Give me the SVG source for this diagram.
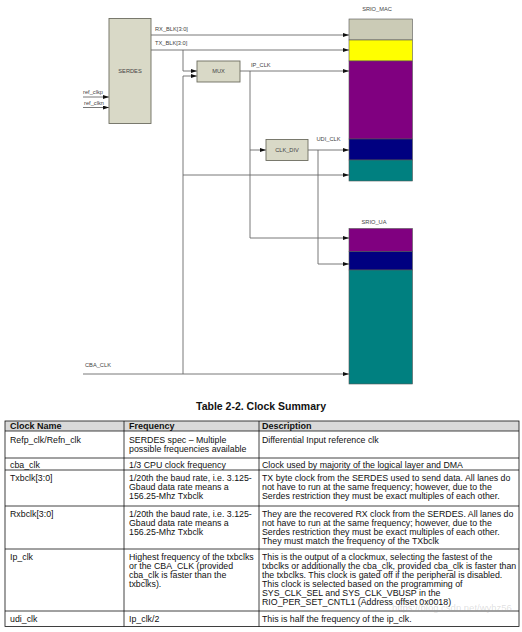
<svg xmlns="http://www.w3.org/2000/svg" width="522" height="632" viewBox="0 0 522 632">
<defs>
<marker id="ah" viewBox="0 0 6 4" refX="6" refY="2" markerWidth="6" markerHeight="4" markerUnits="userSpaceOnUse" orient="auto">
<path d="M0,0 L6,2 L0,4 Z" fill="#111"/>
</marker>
<style>
.w{fill:none;stroke:#6a6a6a;stroke-width:0.9}
.a{marker-end:url(#ah)}
.blk{fill:#d9d9c7;stroke:#6d6d60;stroke-width:0.9}
.lbl{font-family:"Liberation Sans",Arial,sans-serif;font-size:5.7px;fill:#444}
.seg{stroke:#555;stroke-width:0.6}
.t{font-family:"Liberation Sans",Arial,sans-serif;font-size:8.8px;fill:#111}
.th{font-family:"Liberation Sans",Arial,sans-serif;font-size:9px;font-weight:bold;fill:#111}
.g{fill:none;stroke:#111;stroke-width:0.8}
</style>
</defs>
<rect width="522" height="632" fill="#fff"/>

<g id="connectors">
<path class="w a" d="M151,35 H349"/>
<path class="w a" d="M151,50 H349"/>
<path class="w a" d="M183,50 V71 H197"/>
<path class="w a" d="M183,374 V76 H197"/>
<path class="w a" d="M240,71 H349"/>
<path class="w a" d="M250,71 V238 H349"/>
<path class="w a" d="M250,150 H266"/>
<path class="w a" d="M308,150 H349"/>
<path class="w a" d="M318,150 V264 H349"/>
<path class="w a" d="M183,175 H349"/>
<path class="w a" d="M83,374 H349"/>
<path class="w a" d="M83,97 H109"/>
<path class="w a" d="M83,107.5 H109"/>
<text class="lbl" x="155" y="31.3">RX_BLK[3:0]</text>
<text class="lbl" x="155" y="45.3">TX_BLK[3:0]</text>
<text class="lbl" x="251" y="67">IP_CLK</text>
<text class="lbl" x="316.5" y="141.3">UDI_CLK</text>
<text class="lbl" x="83" y="93.5">ref_clkp</text>
<text class="lbl" x="84" y="104.5">ref_clkn</text>
<text class="lbl" x="85" y="367">CBA_CLK</text>
</g>

<g id="serdes">
<rect class="blk" x="109" y="18.5" width="42" height="105"/>
<text class="lbl" x="130" y="73" text-anchor="middle">SERDES</text>
</g>

<g id="mux">
<rect class="blk" x="197" y="61" width="43" height="21"/>
<text class="lbl" x="218.5" y="73" text-anchor="middle">MUX</text>
</g>

<g id="clk_div">
<rect class="blk" x="266" y="139.5" width="42" height="21"/>
<text class="lbl" x="287" y="152" text-anchor="middle">CLK_DIV</text>
</g>

<g id="srio_mac">
<text class="lbl" x="377" y="11.3" text-anchor="middle">SRIO_MAC</text>
<rect class="seg" x="349" y="19" width="63.5" height="21" fill="#cbcbb6"/>
<rect class="seg" x="349" y="40" width="63.5" height="21" fill="#ffff00"/>
<rect class="seg" x="349" y="61" width="63.5" height="78" fill="#800080"/>
<rect class="seg" x="349" y="139" width="63.5" height="21" fill="#000080"/>
<rect class="seg" x="349" y="160" width="63.5" height="21" fill="#008080"/>
</g>

<g id="srio_ua">
<text class="lbl" x="374" y="224" text-anchor="middle">SRIO_UA</text>
<rect class="seg" x="349" y="228.5" width="63.5" height="23" fill="#800080"/>
<rect class="seg" x="349" y="251.5" width="63.5" height="18.5" fill="#000080"/>
<rect class="seg" x="349" y="270" width="63.5" height="114" fill="#008080"/>
</g>

<g id="table">
<text x="261" y="409.5" text-anchor="middle" font-family="'Liberation Sans',Arial,sans-serif" font-size="10.5" font-weight="bold" fill="#111">Table 2-2. Clock Summary</text>
<rect x="5" y="421" width="514" height="10" fill="#d9d9d9"/>
<rect class="g" x="5" y="421" width="514" height="205.5"/>
<path class="g" d="M5,431 H519 M5,458 H519 M5,470 H519 M5,506 H519 M5,549 H519 M5,611 H519 M124,421 V626.5 M259,421 V626.5"/>
<text class="th" x="10" y="429.2">Clock Name</text>
<text class="th" x="129" y="429.2">Frequency</text>
<text class="th" x="262" y="429.2">Description</text>

<text class="t" x="10" y="442.7">Refp_clk/Refn_clk</text>
<text class="t" x="129" y="442.7">SERDES spec – Multiple</text>
<text class="t" x="129" y="451.8">possible frequencies available</text>
<text class="t" x="262" y="442.7">Differential Input reference clk</text>

<text class="t" x="10" y="467.5">cba_clk</text>
<text class="t" x="129" y="467.5">1/3 CPU clock frequency</text>
<text class="t" x="262" y="467.5">Clock used by majority of the logical layer and DMA</text>

<text class="t" x="10" y="480.7">Txbclk[3:0]</text>
<text class="t" x="129" y="480.7">1/20th the baud rate, i.e. 3.125-</text>
<text class="t" x="129" y="489.9">Gbaud data rate means a</text>
<text class="t" x="129" y="499.1">156.25-Mhz Txbclk</text>
<text class="t" x="262" y="480.7">TX byte clock from the SERDES used to send data. All lanes do</text>
<text class="t" x="262" y="489.9">not have to run at the same frequency; however, due to the</text>
<text class="t" x="262" y="499.1">Serdes restriction they must be exact multiples of each other.</text>

<text class="t" x="10" y="516.7">Rxbclk[3:0]</text>
<text class="t" x="129" y="516.7">1/20th the baud rate, i.e. 3.125-</text>
<text class="t" x="129" y="525.9">Gbaud data rate means a</text>
<text class="t" x="129" y="535.1">156.25-Mhz Txbclk</text>
<text class="t" x="262" y="516.7">They are the recovered RX clock from the SERDES. All lanes do</text>
<text class="t" x="262" y="525.9">not have to run at the same frequency; however, due to the</text>
<text class="t" x="262" y="535.1">Serdes restriction they must be exact multiples of each other.</text>
<text class="t" x="262" y="544.3">They must match the frequency of the TXbclk</text>

<text class="t" x="10" y="559.7">Ip_clk</text>
<text class="t" x="129" y="559.7">Highest frequency of the txbclks</text>
<text class="t" x="129" y="568.8">or the CBA_CLK (provided</text>
<text class="t" x="129" y="577.9">cba_clk is faster than the</text>
<text class="t" x="129" y="587">txbclks).</text>
<text class="t" x="262" y="559.7">This is the output of a clockmux, selecting the fastest of the</text>
<text class="t" x="262" y="568.8">txbclks or additionally the cba_clk, provided cba_clk is faster than</text>
<text class="t" x="262" y="577.9">the txbclks. This clock is gated off if the peripheral is disabled.</text>
<text class="t" x="262" y="587">This clock is selected based on the programming of</text>
<text class="t" x="262" y="596.1">SYS_CLK_SEL and SYS_CLK_VBUSP in the</text>
<text class="t" x="262" y="605.2">RIO_PER_SET_CNTL1 (Address offset 0x0018)</text>

<text class="t" x="10" y="622.2">udi_clk</text>
<text class="t" x="129" y="622.2">Ip_clk/2</text>
<text class="t" x="262" y="622.2">This is half the frequency of the ip_clk.</text>

<text x="392" y="611" font-family="'Liberation Sans',Arial,sans-serif" font-size="9.5" fill="#999" fill-opacity="0.3">https://blog.csdn.net/wyhz56</text>
</g>
</svg>
